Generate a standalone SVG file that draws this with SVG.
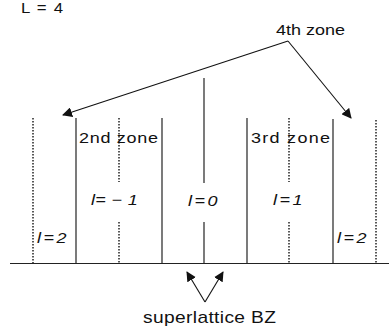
<svg xmlns="http://www.w3.org/2000/svg" width="389" height="332" viewBox="0 0 389 332">
<defs>
<marker id="ah" viewBox="0 0 10 10" refX="9" refY="5" markerWidth="10" markerHeight="10" markerUnits="userSpaceOnUse" orient="auto">
<path d="M0,0 L10,5 L0,10 z" fill="#111"/>
</marker>
<style>
text{font-family:"Liberation Sans",Arial,sans-serif;fill:#111}
.lab{font-size:15px}
.it{font-size:15px;font-style:italic}
.sol{stroke:#222;stroke-width:1.2;fill:none}
.dot{stroke:#222;stroke-width:1.5;stroke-dasharray:1.5 1.5;fill:none}
.arr{stroke:#111;stroke-width:1.1;fill:none;marker-end:url(#ah)}
</style>
</defs>
<rect width="389" height="332" fill="#fff"/>
<g id="title"><text transform="translate(21,13) scale(1.2,1)" style="font-size:14px" textLength="35" lengthAdjust="spacing">L = 4</text></g>
<g id="axis"><line class="sol" x1="10" y1="263.5" x2="389" y2="263.5" stroke-width="1.4"/></g>
<g id="zone-lines">
<line class="dot" x1="33" y1="118" x2="33" y2="263"/>
<line class="sol" x1="76" y1="118" x2="76" y2="263"/>
<line class="dot" x1="119" y1="118" x2="119" y2="182"/>
<line class="dot" x1="119" y1="222" x2="119" y2="263"/>
<line class="sol" x1="162" y1="118" x2="162" y2="263"/>
<line class="sol" x1="204" y1="78" x2="204" y2="183" stroke-width="1.8"/>
<line class="sol" x1="204" y1="222" x2="204" y2="263" stroke-width="1.8"/>
<line class="sol" x1="247" y1="118" x2="247" y2="263"/>
<line class="dot" x1="289" y1="118" x2="289" y2="182"/>
<line class="dot" x1="289" y1="222" x2="289" y2="263"/>
<line class="sol" x1="333" y1="119" x2="333" y2="263"/>
<line class="dot" x1="376" y1="120" x2="376" y2="263"/>
</g>
<g id="zone4"><text class="lab" transform="translate(276,35) scale(1.2,1)" textLength="57.5" lengthAdjust="spacing">4th zone</text></g>
<g id="zone2"><text class="lab" transform="translate(79,143) scale(1.2,1)" textLength="65.8" lengthAdjust="spacing">2nd zone</text></g>
<g id="zone3"><text class="lab" transform="translate(251,143) scale(1.2,1)" textLength="65.8" lengthAdjust="spacing">3rd zone</text></g>
<g id="l-m1"><text class="it" transform="translate(91,205) scale(1.2,1)" textLength="39" lengthAdjust="spacing">l= − 1</text></g>
<g id="l-0"><text class="it" transform="translate(188,206) scale(1.2,1)" textLength="24.5" lengthAdjust="spacing">l=0</text></g>
<g id="l-1"><text class="it" transform="translate(273,205) scale(1.2,1)" textLength="24.5" lengthAdjust="spacing">l=1</text></g>
<g id="l-2a"><text class="it" transform="translate(37,243) scale(1.2,1)" textLength="24.5" lengthAdjust="spacing">l=2</text></g>
<g id="l-2b"><text class="it" transform="translate(337,243) scale(1.2,1)" textLength="24.5" lengthAdjust="spacing">l=2</text></g>
<g id="bz"><text class="lab" transform="translate(143,323) scale(1.2,1)" style="font-size:16px" textLength="110.8" lengthAdjust="spacing">superlattice BZ</text></g>
<g id="connectors">
<line class="arr" x1="288" y1="41" x2="63" y2="115"/>
<line class="arr" x1="288" y1="41" x2="351" y2="118"/>
<line class="arr" x1="205" y1="302" x2="187" y2="272"/>
<line class="arr" x1="205" y1="302" x2="223" y2="272"/>
</g>
</svg>
